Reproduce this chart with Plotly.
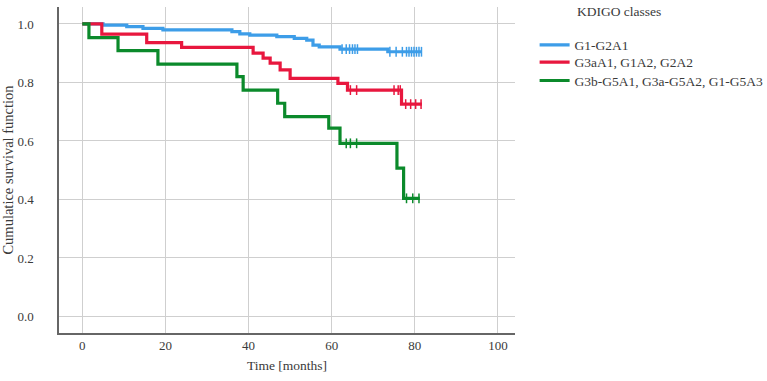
import numpy as np
import plotly.graph_objects as go

# ---- data ----
series_names = ["G1-G2A1", "G3aA1, G1A2, G2A2", "G3b-G5A1, G3a-G5A2, G1-G5A3"]
colors = ["#3d9de8", "#e8173e", "#0b8a2b"]

blue_t = [0, 5, 10.7, 14.6, 19.4, 36, 37.9, 40.3, 46.8, 51, 54, 55.5, 57, 62, 73.5, 81.7]
blue_s = [1.0, 0.996, 0.991, 0.985, 0.98, 0.974, 0.966, 0.962, 0.957, 0.951, 0.945, 0.928, 0.922, 0.914, 0.905, 0.905]
blue_cens = [62.5, 63.5, 64.3, 65, 65.6, 66.2, 74, 75.5, 77, 78, 78.6, 79.2, 79.8, 80.4, 81, 81.6]

red_t = [0, 4.7, 15.5, 23.9, 41.1, 43.5, 45.2, 47.6, 50, 61.5, 63.8, 76.8, 81.7]
red_s = [1.0, 0.965, 0.936, 0.92, 0.9, 0.883, 0.866, 0.843, 0.814, 0.797, 0.774, 0.726, 0.726]
red_cens = [64.5, 66, 75, 76, 76.5, 77.8, 79, 80.2, 81.5]

green_t = [0, 1.6, 8.6, 18.2, 37.2, 38.7, 47, 48.7, 59.3, 62, 75.7, 77.3, 81.2]
green_s = [1.0, 0.953, 0.909, 0.863, 0.82, 0.774, 0.729, 0.683, 0.644, 0.592, 0.507, 0.404, 0.404]
green_cens = [63.5, 64.5, 66, 78, 79.5, 81]

x_ticks = [0, 20, 40, 60, 80, 100]
y_ticks = [0.0, 0.2, 0.4, 0.6, 0.8, 1.0]

font_family = "Liberation Serif, Times New Roman, serif"
txt_col = "#3a3a3a"
fig = go.Figure()

def step_value(t, s, x):
    idx = np.searchsorted(np.array(t), x, side="right") - 1
    return [s[i] for i in idx]

legend_ids = ["legend", "legend2", "legend3"]
legend_y = [0.8834, 0.8304, 0.7739]

for name, col, t, s, c, lg in [
    (series_names[0], colors[0], blue_t, blue_s, blue_cens, legend_ids[0]),
    (series_names[1], colors[1], red_t, red_s, red_cens, legend_ids[1]),
    (series_names[2], colors[2], green_t, green_s, green_cens, legend_ids[2]),
]:
    fig.add_trace(go.Scatter(x=t, y=s, mode="lines", line=dict(color=col, width=3.2, shape="hv"),
                             name=name, legend=lg))
    fig.add_trace(go.Scatter(x=c, y=step_value(t, s, c), mode="markers", showlegend=False,
                             marker=dict(symbol="line-ns-open", size=7, color=col,
                                         line=dict(color=col, width=1.5))))

leg_common = dict(x=1.043, xanchor="left", yanchor="middle",
                  font=dict(family=font_family, size=13.5, color=txt_col),
                  itemwidth=30, bgcolor="rgba(0,0,0,0)", borderwidth=0)

fig.update_layout(
    width=767, height=381,
    margin=dict(l=59, r=252, t=7, b=48, autoexpand=False),
    paper_bgcolor="white", plot_bgcolor="white",
    font=dict(family=font_family, size=13, color=txt_col),
    showlegend=True,
    legend=dict(y=legend_y[0], **leg_common),
    legend2=dict(y=legend_y[1], **leg_common),
    legend3=dict(y=legend_y[2], **leg_common),
    annotations=[dict(text="KDIGO classes", xref="paper", yref="paper",
                      x=(575 - 59) / 456, y=0.985, xanchor="left", yanchor="middle",
                      showarrow=False, font=dict(family=font_family, size=13.5, color=txt_col))],
)
fig.update_xaxes(range=[-5.6, 104.1], tickvals=x_ticks, ticktext=[str(v) for v in x_ticks],
                 showgrid=True, gridcolor="#cfcfcf", gridwidth=1.2, zeroline=False,
                 showline=True, linecolor="#666666", linewidth=1.5, ticks="", automargin=False,
                 title=dict(text="Time [months]", font=dict(family=font_family, size=13.5), standoff=8),
                 tickfont=dict(family=font_family, size=13))
fig.update_yaxes(range=[-0.0564, 1.058], tickvals=y_ticks, ticktext=[f"{v:.1f}" for v in y_ticks],
                 showgrid=True, gridcolor="#cfcfcf", gridwidth=1.2, zeroline=False,
                 showline=True, linecolor="#666666", linewidth=1.5, ticks="", automargin=False,
                 ticklabelstandoff=21,
                 title=dict(text="Cumulatice survival function", font=dict(family=font_family, size=14.5), standoff=1),
                 tickfont=dict(family=font_family, size=13))

fig.write_html("out.html")
